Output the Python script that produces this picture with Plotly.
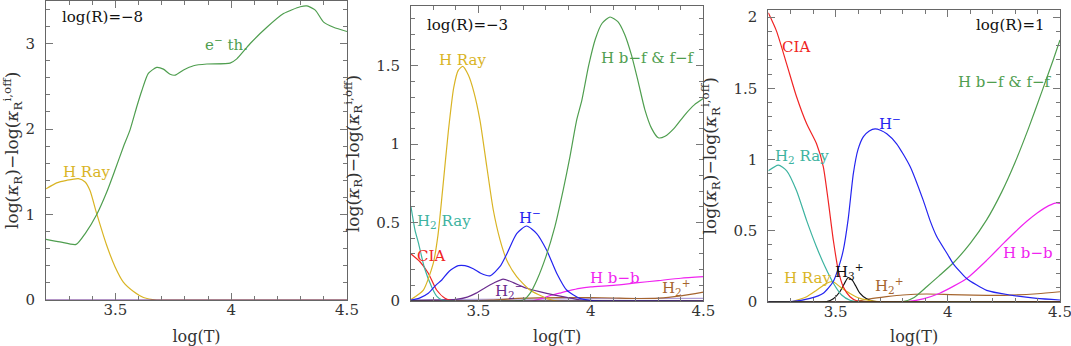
import plotly.graph_objects as go
from plotly.subplots import make_subplots

# ---- panel 1: log(R) = -8 ----
p1_eth_x = [3.20, 3.26, 3.33, 3.37, 3.419, 3.462, 3.498, 3.534, 3.563, 3.592, 3.614, 3.642, 3.678,
            3.707, 3.736, 3.758, 3.794, 3.837, 3.895, 3.995, 4.024, 4.082, 4.154, 4.226, 4.298,
            4.327, 4.363, 4.399, 4.442, 4.50]
p1_eth_y = [0.71, 0.68, 0.65, 0.78, 1.00, 1.26, 1.52, 1.79, 1.99, 2.26, 2.45, 2.65, 2.72,
            2.70, 2.64, 2.63, 2.69, 2.74, 2.76, 2.77, 2.82, 3.00, 3.19, 3.35, 3.43,
            3.44, 3.39, 3.25, 3.19, 3.14]
p1_hray_x = [3.20, 3.246, 3.289, 3.34, 3.369, 3.39, 3.419, 3.462, 3.498, 3.534, 3.578, 3.621, 3.678, 3.75, 4.50]
p1_hray_y = [1.30, 1.37, 1.40, 1.42, 1.38, 1.28, 1.01, 0.64, 0.39, 0.21, 0.10, 0.03, 0.0, 0.0, 0.0]

# ---- panel 2: log(R) = -3 ----
p2_hbf_x = [3.20, 3.66, 3.70, 3.73, 3.76, 3.80, 3.84, 3.877, 3.907, 3.937, 3.96, 3.99, 4.02, 4.05,
            4.085, 4.12, 4.15, 4.18, 4.21, 4.24, 4.27, 4.30, 4.33, 4.37, 4.42, 4.46, 4.50]
p2_hbf_y = [0.0, 0.0, 0.006, 0.05, 0.134, 0.283, 0.474, 0.708, 0.92, 1.154, 1.28, 1.50, 1.67, 1.77,
            1.81, 1.78, 1.70, 1.57, 1.40, 1.22, 1.10, 1.04, 1.05, 1.10, 1.19, 1.25, 1.29]
p2_hray_x = [3.20, 3.255, 3.299, 3.32, 3.34, 3.366, 3.39, 3.41, 3.43, 3.455, 3.48, 3.507, 3.537,
             3.566, 3.596, 3.626, 3.67, 3.729, 3.803, 3.85, 4.50]
p2_hray_y = [0.01, 0.07, 0.24, 0.42, 0.70, 1.08, 1.36, 1.47, 1.495, 1.44, 1.33, 1.15, 0.857,
             0.58, 0.39, 0.26, 0.155, 0.07, 0.017, 0.0, 0.0]
p2_hm_x = [3.20, 3.24, 3.277, 3.31, 3.337, 3.37, 3.41, 3.44, 3.477, 3.51, 3.551, 3.596, 3.626,
           3.67, 3.714, 3.759, 3.803, 3.848, 3.892, 3.951, 4.00, 4.05, 4.50]
p2_hm_y = [0.005, 0.02, 0.049, 0.10, 0.134, 0.19, 0.225, 0.225, 0.205, 0.177, 0.16, 0.22, 0.30,
           0.43, 0.478, 0.43, 0.325, 0.177, 0.07, 0.017, 0.004, 0.0, 0.0]
p2_h2ray_x = [3.20, 3.218, 3.233, 3.26, 3.292, 3.315, 3.34, 3.40, 4.50]
p2_h2ray_y = [0.60, 0.45, 0.37, 0.21, 0.09, 0.03, 0.005, 0.0, 0.0]
p2_cia_x = [3.20, 3.24, 3.277, 3.314, 3.351, 3.38, 3.45, 4.50]
p2_cia_y = [0.30, 0.25, 0.177, 0.07, 0.017, 0.003, 0.0, 0.0]
p2_h2m_x = [3.20, 3.30, 3.40, 3.45, 3.49, 3.53, 3.566, 3.61, 3.655, 3.714, 3.803, 3.892, 3.95, 4.00, 4.50]
p2_h2m_y = [0.003, 0.005, 0.01, 0.025, 0.05, 0.085, 0.113, 0.14, 0.117, 0.081, 0.049, 0.023, 0.008, 0.003, 0.003]
p2_hbb_x = [3.20, 3.74, 3.78, 3.82, 3.86, 3.90, 3.95, 4.00, 4.10, 4.20, 4.30, 4.40, 4.50]
p2_hbb_y = [0.0, 0.0, 0.015, 0.035, 0.05, 0.065, 0.081, 0.09, 0.10, 0.115, 0.13, 0.145, 0.155]
p2_h2p_x = [3.20, 3.45, 3.56, 3.70, 3.86, 4.00, 4.10, 4.20, 4.30, 4.40, 4.50]
p2_h2p_y = [0.0, 0.0, 0.006, 0.018, 0.022, 0.022, 0.019, 0.016, 0.018, 0.033, 0.057]
p2_other_x = [3.20, 3.50, 4.00, 4.50]
p2_other_y = [0.008, 0.01, 0.015, 0.017]

# ---- panel 3: log(R) = 1 ----
p3_cia_x = [3.20, 3.237, 3.282, 3.326, 3.371, 3.415, 3.445, 3.467, 3.49, 3.512, 3.534, 3.564, 3.594, 3.65, 4.50]
p3_cia_y = [2.03, 1.90, 1.67, 1.44, 1.25, 1.11, 0.95, 0.71, 0.43, 0.22, 0.105, 0.035, 0.007, 0.0, 0.0]
p3_h2ray_x = [3.20, 3.245, 3.282, 3.326, 3.371, 3.415, 3.453, 3.49, 3.527, 3.564, 3.60, 4.50]
p3_h2ray_y = [0.92, 0.96, 0.92, 0.78, 0.57, 0.385, 0.245, 0.13, 0.047, 0.01, 0.0, 0.0]
p3_hray_x = [3.20, 3.30, 3.371, 3.415, 3.46, 3.489, 3.519, 3.564, 3.609, 3.668, 3.72, 4.50]
p3_hray_y = [0.0, 0.0, 0.035, 0.08, 0.13, 0.14, 0.105, 0.058, 0.023, 0.005, 0.0, 0.0]
p3_hm_x = [3.20, 3.30, 3.386, 3.445, 3.489, 3.515, 3.534, 3.556, 3.579, 3.60, 3.624, 3.65, 3.676,
           3.70, 3.728, 3.772, 3.832, 3.891, 3.921, 3.95, 4.00, 4.023, 4.084, 4.173, 4.277, 4.396, 4.50]
p3_hm_y = [0.0, 0.0, 0.023, 0.06, 0.14, 0.25, 0.36, 0.58, 0.90, 1.07, 1.16, 1.20, 1.215,
           1.205, 1.18, 1.11, 0.95, 0.71, 0.57, 0.46, 0.33, 0.27, 0.163, 0.08, 0.047, 0.023, 0.012]
p3_h3p_x = [3.20, 3.46, 3.49, 3.519, 3.54, 3.556, 3.575, 3.59, 3.608, 3.638, 3.67, 4.50]
p3_h3p_y = [0.0, 0.0, 0.02, 0.07, 0.13, 0.17, 0.15, 0.11, 0.06, 0.02, 0.003, 0.0]
p3_h2p_x = [3.20, 3.58, 3.653, 3.727, 3.80, 3.905, 4.01, 4.113, 4.25, 4.40, 4.50]
p3_h2p_y = [0.0, 0.0, 0.02, 0.035, 0.047, 0.054, 0.05, 0.046, 0.045, 0.056, 0.07]
p3_hbf_x = [3.20, 3.80, 3.85, 3.906, 3.96, 4.023, 4.10, 4.173, 4.24, 4.30, 4.36, 4.42, 4.47, 4.50]
p3_hbf_y = [0.0, 0.0, 0.03, 0.105, 0.18, 0.27, 0.41, 0.575, 0.77, 0.98, 1.22, 1.48, 1.70, 1.84]
p3_hbb_x = [3.20, 3.816, 3.89, 3.964, 4.084, 4.173, 4.248, 4.30, 4.352, 4.40, 4.45, 4.485, 4.50]
p3_hbb_y = [0.0, 0.0, 0.02, 0.059, 0.163, 0.29, 0.41, 0.49, 0.565, 0.625, 0.675, 0.695, 0.69]

zero_x = [3.20, 4.50]
zero_y = [0.0, 0.0]

GREEN = "#4f9e4f"
YELLOW = "#d9b424"
BLUE = "#2424f0"
CYAN = "#3db3a0"
RED = "#f02424"
PURPLE = "#6b2d8f"
MAGENTA = "#f024f0"
BROWN = "#a5652e"
LAVENDER = "#b0a0d8"
BLACK = "#111111"

FONT = "DejaVu Serif"

fig = make_subplots(rows=1, cols=3)


def add_line(x, y, color, col):
    fig.add_trace(go.Scatter(x=x, y=y, mode="lines", line=dict(color=color, width=1.2, shape="spline", smoothing=0.6),
                             showlegend=False, hoverinfo="skip"), row=1, col=col)


# panel 1
add_line(p1_hray_x, p1_hray_y, YELLOW, 1)
add_line(p1_eth_x, p1_eth_y, GREEN, 1)
add_line(zero_x, zero_y, PURPLE, 1)

# panel 2
add_line(p2_other_x, p2_other_y, LAVENDER, 2)
add_line(p2_h2p_x, p2_h2p_y, BROWN, 2)
add_line(p2_hbb_x, p2_hbb_y, MAGENTA, 2)
add_line(p2_h2m_x, p2_h2m_y, PURPLE, 2)
add_line(p2_cia_x, p2_cia_y, RED, 2)
add_line(p2_h2ray_x, p2_h2ray_y, CYAN, 2)
add_line(p2_hray_x, p2_hray_y, YELLOW, 2)
add_line(p2_hm_x, p2_hm_y, BLUE, 2)
add_line(p2_hbf_x, p2_hbf_y, GREEN, 2)
add_line(zero_x, zero_y, "#3a1030", 2)

# panel 3
add_line(p3_h2p_x, p3_h2p_y, BROWN, 3)
add_line(p3_hbb_x, p3_hbb_y, MAGENTA, 3)
add_line(p3_hbf_x, p3_hbf_y, GREEN, 3)
add_line(p3_h3p_x, p3_h3p_y, BLACK, 3)
add_line(p3_hray_x, p3_hray_y, YELLOW, 3)
add_line(p3_h2ray_x, p3_h2ray_y, CYAN, 3)
add_line(p3_cia_x, p3_cia_y, RED, 3)
add_line(p3_hm_x, p3_hm_y, BLUE, 3)
add_line(zero_x, zero_y, "#2a2a10", 3)

W, H = 1071, 346
x_dom = [(46, 347), (411, 703.3), (768.3, 1060)]
y_dom = [(300, 0.75), (301, 6), (301.7, 10)]
y_rng = [3.5, 1.88, 2.05]
y_dtick = [1, 0.5, 0.5]
y_minor = [0.2, 0.1, 0.1]

ytitle = "log(<i>κ</i><sub>R</sub>)−log(<i>κ</i><sub>R</sub><sup>i,off</sup>)"

for i in range(3):
    fig.update_xaxes(
        row=1, col=i + 1,
        domain=[x_dom[i][0] / W, x_dom[i][1] / W],
        range=[3.2, 4.5], tick0=3.5, dtick=0.5,
        ticks="inside", ticklen=7, tickcolor="#777", tickwidth=1,
        minor=dict(dtick=0.1, tick0=3.2, ticks="inside", ticklen=4, tickcolor="#777"),
        showline=True, linecolor="#666", linewidth=1, mirror="allticks",
        showgrid=False, zeroline=False,
        tickfont=dict(family=FONT, size=15, color="#333"),
        ticklabelstandoff=-4, ticklabeloverflow="allow",
        title=dict(text="log(T)", font=dict(family=FONT, size=16, color="#333"), standoff=12),
        automargin=False,
    )
    fig.update_yaxes(
        row=1, col=i + 1,
        domain=[(H - y_dom[i][0]) / H, (H - y_dom[i][1]) / H],
        range=[0, y_rng[i]], tick0=0, dtick=y_dtick[i],
        ticks="inside", ticklen=7, tickcolor="#777", tickwidth=1,
        minor=dict(dtick=y_minor[i], tick0=0, ticks="inside", ticklen=4, tickcolor="#777"),
        showline=True, linecolor="#666", linewidth=1, mirror="allticks",
        showgrid=False, zeroline=False,
        tickfont=dict(family=FONT, size=15, color="#333"),
        ticklabelstandoff=7, ticklabeloverflow="allow",
        title=dict(text=ytitle, font=dict(family=FONT, size=17, color="#333"), standoff=12),
        automargin=False,
    )


def label(text, x, y, color, col, anchor="center", size=15):
    ax = "" if col == 1 else str(col)
    fig.add_annotation(text=text, x=x, y=y, xref="x" + ax, yref="y" + ax, showarrow=False,
                       xanchor=anchor, yanchor="middle",
                       font=dict(family=FONT, size=size, color=color))


label("log(R)=−8", 3.26, 3.31, BLACK, 1, "left")
label("e<sup>−</sup> th.", 3.978, 2.99, GREEN, 1)
label("H Ray", 3.377, 1.50, YELLOW, 1)

label("log(R)=−3", 3.262, 1.76, BLACK, 2, "left")
label("H Ray", 3.431, 1.537, YELLOW, 2)
label("H b−f & f−f", 4.254, 1.55, GREEN, 2)
label("H<sub>2</sub> Ray", 3.218, 0.504, CYAN, 2, "left")
label("H<sup>−</sup>", 3.729, 0.536, BLUE, 2)
label("CIA", 3.218, 0.287, RED, 2, "left")
label("H b−b", 4.107, 0.147, MAGENTA, 2)
label("H<sub>2</sub><sup>−</sup>", 3.640, 0.07, PURPLE, 2)
label("H<sub>2</sub><sup>+</sup>", 4.383, 0.083, BROWN, 2)

label("log(R)=1", 4.441, 1.946, BLACK, 3, "right")
label("CIA", 3.252, 1.79, RED, 3, "left")
label("H b−f & f−f", 4.254, 1.545, GREEN, 3)
label("H<sup>−</sup>", 3.742, 1.257, BLUE, 3)
label("H<sub>2</sub> Ray", 3.221, 1.018, CYAN, 3, "left")
label("H b−b", 4.356, 0.343, MAGENTA, 3)
label("H<sub>3</sub><sup>+</sup>", 3.564, 0.209, BLACK, 3)
label("H Ray", 3.376, 0.167, YELLOW, 3)
label("H<sub>2</sub><sup>+</sup>", 3.742, 0.117, BROWN, 3)

fig.update_layout(
    width=W, height=H,
    margin=dict(l=0, r=0, t=0, b=0),
    paper_bgcolor="white", plot_bgcolor="white",
    showlegend=False,
)

# drop the page's default body margin so the figure sits at the window corner
fig.write_html("out.html", config={"displayModeBar": False},
               post_script="document.body.style.margin='0';document.body.style.overflow='hidden';")
